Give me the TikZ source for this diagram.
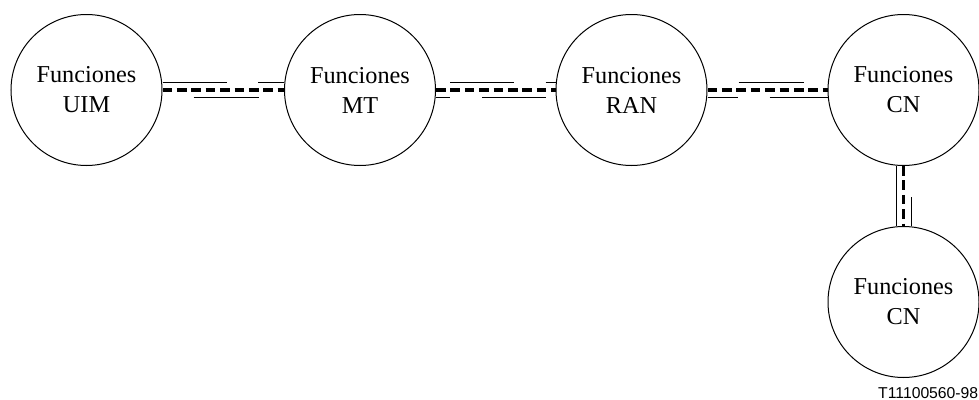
\documentclass[tikz,border=0pt]{standalone}
\usepackage{fontspec}
\setmainfont{Liberation Serif}
\newfontfamily\labelfont{Liberation Sans}
\usetikzlibrary{calc}
\tikzset{
  func/.style={draw=black, line width=0.75pt, circle, inner sep=0pt, minimum size=113.25pt,
    align=center, font=\fontsize{18.2pt}{22.5pt}\selectfont},
  thickdash/.style={line width=2.6pt, dash pattern=on 7.2pt off 3.6pt},
  thinline/.style={line width=0.75pt}
}
\begin{document}
\begin{tikzpicture}[x=0.75pt,y=-0.75pt]
\useasboundingbox (0,0) rectangle (979,400);
\node[func] (uim) at (86.5,90) {Funciones\\UIM};
\node[func] (mt) at (360,90) {Funciones\\MT};
\node[func] (ran) at (631.5,90) {Funciones\\RAN};
\node[func] (cn1) at (903.5,90) {Funciones\\CN};
\node[func] (cn2) at (903.5,302) {Funciones\\CN};
\node[anchor=base east, inner sep=0pt, font=\labelfont\fontsize{11.8pt}{14pt}\selectfont] (lbl) at (978.5,398.5) {T11100560-98};
% UIM - MT
\draw[thickdash] (uim.east) -- (mt.west);
\draw[thinline] ($(uim.east)+(0,-7.5)$) -- ++(64,0);
\draw[thinline] ($(mt.west)+(-26,-7.5)$) -- (mt.west|-0,82.5);
\draw[thinline] ($(uim.east)+(31,7.5)$) -- ++(65,0);
% MT - RAN
\draw[thickdash] (mt.east) -- (ran.west);
\draw[thinline] ($(mt.east)+(14,-7.5)$) -- ++(64,0);
\draw[thinline] ($(ran.west)+(-10,-7.5)$) -- (ran.west|-0,82.5);
\draw[thinline] ($(mt.east)+(0,7.5)$) -- ++(14,0);
\draw[thinline] ($(mt.east)+(46,7.5)$) -- ++(64,0);
% RAN - CN
\draw[thickdash] (ran.east) -- (cn1.west);
\draw[thinline] ($(ran.east)+(31,-7.5)$) -- ++(65,0);
\draw[thinline] ($(ran.east)+(0,7.5)$) -- ++(30,0);
\draw[thinline] ($(cn1.west)+(-58,7.5)$) -- (cn1.west|-0,97.5);
% CN - CN
\draw[thickdash] (cn1.south) -- (cn2.north);
\draw[thinline] ($(cn1.south)+(-7,0)$) -- ($(cn2.north)+(-7,0)$);
\draw[thinline] ($(cn2.north)+(8,-29)$) -- ($(cn2.north)+(8,0)$);
\end{tikzpicture}
\end{document}
